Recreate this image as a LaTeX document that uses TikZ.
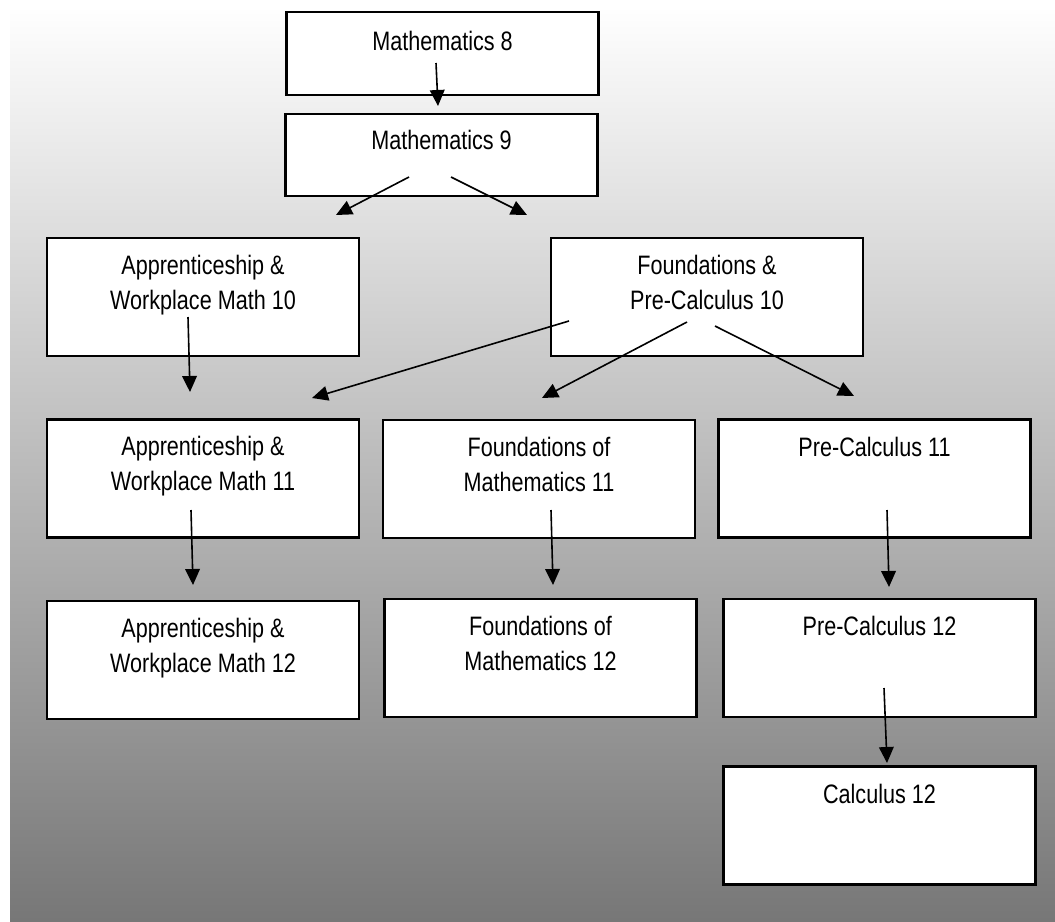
\documentclass[tikz,border=0pt]{standalone}
\usepackage{fontspec}
\setmainfont{Liberation Sans}
\newfontfamily\coursefont[FakeStretch=0.81]{Liberation Sans}
\usetikzlibrary{arrows.meta}
\definecolor{bgbot}{RGB}{119,119,119}
\definecolor{bgtop}{RGB}{254,254,254}
\begin{document}
\begin{tikzpicture}[x=0.75pt,y=0.75pt,
  course/.style={draw=black,fill=white,line width=1.6pt,inner sep=0pt,
    minimum width=234pt,minimum height=#1},
  course/.default=88.5pt,
  lbl/.style={anchor=north,inner sep=0pt,align=center,text=black,
    font=\coursefont\fontsize{20}{26.25}\selectfont},
  link/.style={line width=1.2pt,-{Triangle[length=12pt,width=11pt]}}]
\useasboundingbox (0,0) rectangle (1055,-921);
\shade[top color=bgtop,bottom color=bgbot] (10,-10) rectangle (1055,-921);
% boxes
\node[course=62pt] (m8) at (442.5,-53.5) {};
\node[course=61.5pt] (m9) at (441.5,-155) {};
\node[course] (a10) at (203,-297) {};
\node[course] (f10) at (707,-297) {};
\node[course] (a11) at (203,-478.5) {};
\node[course] (f11) at (539,-479) {};
\node[course] (p11) at (874.5,-478.5) {};
\node[course] (a12) at (203,-660) {};
\node[course] (f12) at (540.5,-658) {};
\node[course] (p12) at (879.5,-658) {};
\node[course] (c12) at (879.5,-825.5) {};
% labels
\node[lbl] (m8t) at (442.5,-31) {Mathematics 8};
\node[lbl] (m9t) at (441.5,-130) {Mathematics 9};
\node[lbl] (a10t) at (203,-255) {Apprenticeship \&\\Workplace Math 10};
\node[lbl] (f10t) at (707,-255) {Foundations \&\\Pre-Calculus 10};
\node[lbl] (a11t) at (203,-436) {Apprenticeship \&\\Workplace Math 11};
\node[lbl] (f11t) at (539,-437) {Foundations of\\Mathematics 11};
\node[lbl] (p11t) at (874.5,-437) {Pre-Calculus 11};
\node[lbl] (a12t) at (203,-618) {Apprenticeship \&\\Workplace Math 12};
\node[lbl] (f12t) at (540.5,-616) {Foundations of\\Mathematics 12};
\node[lbl] (p12t) at (879.5,-616) {Pre-Calculus 12};
\node[lbl] (c12t) at (879.5,-784) {Calculus 12};
% connector ends
\coordinate (m8s) at (436,-63);   \coordinate (m9e) at (438,-106);
\coordinate (m9l) at (409,-177);  \coordinate (a10e) at (336,-215);
\coordinate (m9r) at (451,-177);  \coordinate (f10e) at (527,-215);
\coordinate (a10s) at (188,-317); \coordinate (a11e) at (190,-392);
\coordinate (f10a) at (569,-321); \coordinate (a11f) at (312,-398);
\coordinate (f10b) at (687,-322); \coordinate (f11e) at (542,-398);
\coordinate (f10c) at (715,-326); \coordinate (p11e) at (854,-396);
\coordinate (a11s) at (191,-510); \coordinate (a12e) at (193,-585);
\coordinate (f11s) at (551,-510); \coordinate (f12e) at (553,-585);
\coordinate (p11s) at (887,-510); \coordinate (p12e) at (889,-587);
\coordinate (p12s) at (884,-688); \coordinate (c12e) at (887,-763);
% connectors
\draw[link] (m8s) -- (m9e);
\draw[link] (m9l) -- (a10e);
\draw[link] (m9r) -- (f10e);
\draw[link] (a10s) -- (a11e);
\draw[link] (f10a) -- (a11f);
\draw[link] (f10b) -- (f11e);
\draw[link] (f10c) -- (p11e);
\draw[link] (a11s) -- (a12e);
\draw[link] (f11s) -- (f12e);
\draw[link] (p11s) -- (p12e);
\draw[link] (p12s) -- (c12e);
\end{tikzpicture}
\end{document}
